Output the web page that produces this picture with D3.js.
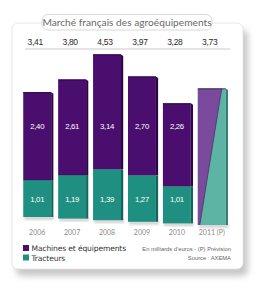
<!DOCTYPE html>
<html><head><meta charset="utf-8">
<script src="https://cdn.jsdelivr.net/npm/d3@7/dist/d3.min.js"></script>
<style>html,body{margin:0;padding:0;background:#fff;}svg{display:block;}</style>
</head><body>
<script>
const years = ["2006","2007","2008","2009","2010","2011 (P)"];
const machines = [2.40, 2.61, 3.14, 2.70, 2.26, null];
const tracteurs = [1.01, 1.19, 1.39, 1.27, 1.01, null];
const totals = [3.41, 3.80, 4.53, 3.97, 3.28, 3.73];
const forecast = [false, false, false, false, false, true];
const title = "Marché français des agroéquipements";
const seriesNames = ["Machines et équipements", "Tracteurs"];
const notes = ["En milliards d'euros - (P) Prévision", "Source : AXEMA"];

const W = 267, H = 300;
const svg = d3.select("body").append("svg").attr("width", W).attr("height", H);
const defs = svg.append("defs");
const blur = defs.append("filter").attr("id","blur").attr("x","-20%").attr("y","-20%").attr("width","140%").attr("height","140%");
blur.append("feGaussianBlur").attr("stdDeviation", 3);
const blur2 = defs.append("filter").attr("id","blur2");
blur2.append("feGaussianBlur").attr("stdDeviation", 1.2);

const fmt = v => v.toFixed(2).replace(".", ",");
const cPurple = "#4a0e6e", cPurpleSide = "#2c0645", cTeal = "#1e8f80", cTealSide = "#126659";
const cPurpleF = "#7a4a9c", cTealF = "#5db4a4";

// panel shadow + panel
svg.append("rect").attr("x", 16).attr("y", 30).attr("width", 232).attr("height", 246).attr("rx", 6)
  .attr("fill", "#9a9a9a").attr("opacity", 0.55).attr("filter", "url(#blur)");
svg.append("rect").attr("x", 12).attr("y", 23).attr("width", 231).attr("height", 246).attr("rx", 6)
  .attr("fill", "#fff").attr("stroke", "#e2e2e2").attr("stroke-width", 0.8);

// title box
const tb = svg.append("g");
tb.append("rect").attr("x", 42).attr("y", 14.5).attr("width", 170).attr("height", 15.5).attr("rx", 6)
  .attr("fill", "#fff").attr("stroke", "#d4d4d4").attr("stroke-width", 0.9);
tb.append("text").attr("x", 127).attr("y", 26).attr("text-anchor", "middle")
  .attr("font-family", "Lato, 'DejaVu Sans', sans-serif").attr("font-size", 10.2).attr("fill", "#6a6a6a")
  .text(title);

// scales
const x = d3.scaleBand().domain(years).range([21.5, 227.5]).paddingInner(0.2).paddingOuter(0.05);
const k = d3.scaleLinear().domain([0, 5]).range([0, 183]);
const cx0 = x(years[0]) + x.bandwidth()/2, cx1 = x(years[years.length-1]) + x.bandwidth()/2;
const base = d3.scaleLinear().domain([cx0, cx1]).range([217, 225]);
const bw = x.bandwidth();

// totals row
svg.append("g").selectAll("text").data(totals).join("text")
  .attr("x", (d,i) => x(years[i]) + bw/2 - 2).attr("y", 45)
  .attr("text-anchor", "middle").attr("font-family", "'Liberation Sans Narrow', 'Liberation Sans', sans-serif")
  .attr("font-size", 8.5).attr("fill", "#2a2a2a").attr("letter-spacing", -0.3).text(d => fmt(d));
svg.append("line").attr("x1", 25).attr("x2", 230).attr("y1", 49).attr("y2", 49)
  .attr("stroke", "#bdbdbd").attr("stroke-width", 0.8);

const bars = svg.append("g");
years.forEach((yr, i) => {
  const bx = x(yr), cx = bx + bw/2, b = base(cx);
  const g = bars.append("g");
  const top = b - k(totals[i]);
  // ground shadow
  g.append("rect").attr("x", bx + 1).attr("y", b - 1).attr("width", bw + 2).attr("height", 4)
    .attr("fill", "#888").attr("opacity", 0.35).attr("filter", "url(#blur2)");
  if (!forecast[i]) {
    const split = b - k(tracteurs[i]);
    g.append("rect").attr("x", bx).attr("y", top).attr("width", bw).attr("height", split - top).attr("fill", cPurple);
    g.append("rect").attr("x", bx).attr("y", split).attr("width", bw).attr("height", b - split).attr("fill", cTeal);
    g.append("polygon").attr("points", `${bx+bw},${top} ${bx+bw+2.2},${top+1.5} ${bx+bw+2.2},${split} ${bx+bw},${split}`).attr("fill", cPurpleSide);
    g.append("polygon").attr("points", `${bx+bw},${split} ${bx+bw+2.2},${split} ${bx+bw+2.2},${b} ${bx+bw},${b}`).attr("fill", cTealSide);
    g.append("line").attr("x1", bx).attr("x2", bx+bw).attr("y1", top+0.4).attr("y2", top+0.4).attr("stroke", "#2a0540").attr("stroke-width", 0.9);
    g.append("line").attr("x1", bx).attr("x2", bx+bw).attr("y1", split).attr("y2", split).attr("stroke", "#2a0540").attr("stroke-width", 0.5).attr("opacity", 0.6);
    g.append("text").attr("x", cx).attr("y", 129).attr("text-anchor", "middle")
      .attr("font-family", "'Liberation Sans Narrow', 'Liberation Sans', sans-serif").attr("font-size", 7.8)
      .attr("fill", "#fff").attr("letter-spacing", -0.3).text(fmt(machines[i]));
    g.append("text").attr("x", cx).attr("y", 202).attr("text-anchor", "middle")
      .attr("font-family", "'Liberation Sans Narrow', 'Liberation Sans', sans-serif").attr("font-size", 7.8)
      .attr("fill", "#fff").attr("letter-spacing", -0.3).text(fmt(tracteurs[i]));
  } else {
    g.append("rect").attr("x", bx).attr("y", top).attr("width", bw).attr("height", b - top).attr("fill", cTealF);
    g.append("polygon").attr("points", `${bx},${top} ${bx+bw-4},${top} ${bx+2},${b} ${bx},${b}`).attr("fill", cPurpleF);
    g.append("line").attr("x1", bx+bw-4).attr("y1", top).attr("x2", bx+2).attr("y2", b).attr("stroke", "#3a2050").attr("stroke-width", 0.6);
    g.append("polygon").attr("points", `${bx+bw},${top} ${bx+bw+2.2},${top+1.5} ${bx+bw+2.2},${b} ${bx+bw},${b}`).attr("fill", "#2f7f72");
    g.append("line").attr("x1", bx).attr("x2", bx+bw).attr("y1", top+0.4).attr("y2", top+0.4).attr("stroke", "#3a2050").attr("stroke-width", 0.8);
  }
});

// year labels
svg.append("g").selectAll("text").data(years).join("text")
  .attr("x", d => x(d) + bw/2).attr("y", 235).attr("text-anchor", "middle")
  .attr("font-family", "Lato, 'DejaVu Sans', sans-serif").attr("font-size", 7).attr("fill", "#8a8a8a")
  .text(d => d);

// legend
const leg = svg.append("g");
[cPurple, cTeal].forEach((c, i) => {
  leg.append("rect").attr("x", 23).attr("y", 245 + i*9.5).attr("width", 6).attr("height", 6).attr("fill", c);
  leg.append("text").attr("x", 31.5).attr("y", 251 + i*9.5).attr("font-family", "'DejaVu Sans', sans-serif")
    .attr("font-size", 7.6).attr("fill", "#333").attr("letter-spacing", -0.15).text(seriesNames[i]);
});
notes.forEach((t, i) => {
  svg.append("text").attr("x", 231).attr("y", 250.5 + i*9.5).attr("text-anchor", "end")
    .attr("font-family", "'Liberation Sans Narrow', 'Liberation Sans', sans-serif").attr("font-size", 5.8)
    .attr("fill", "#666").text(t);
});
</script>
</body></html>
